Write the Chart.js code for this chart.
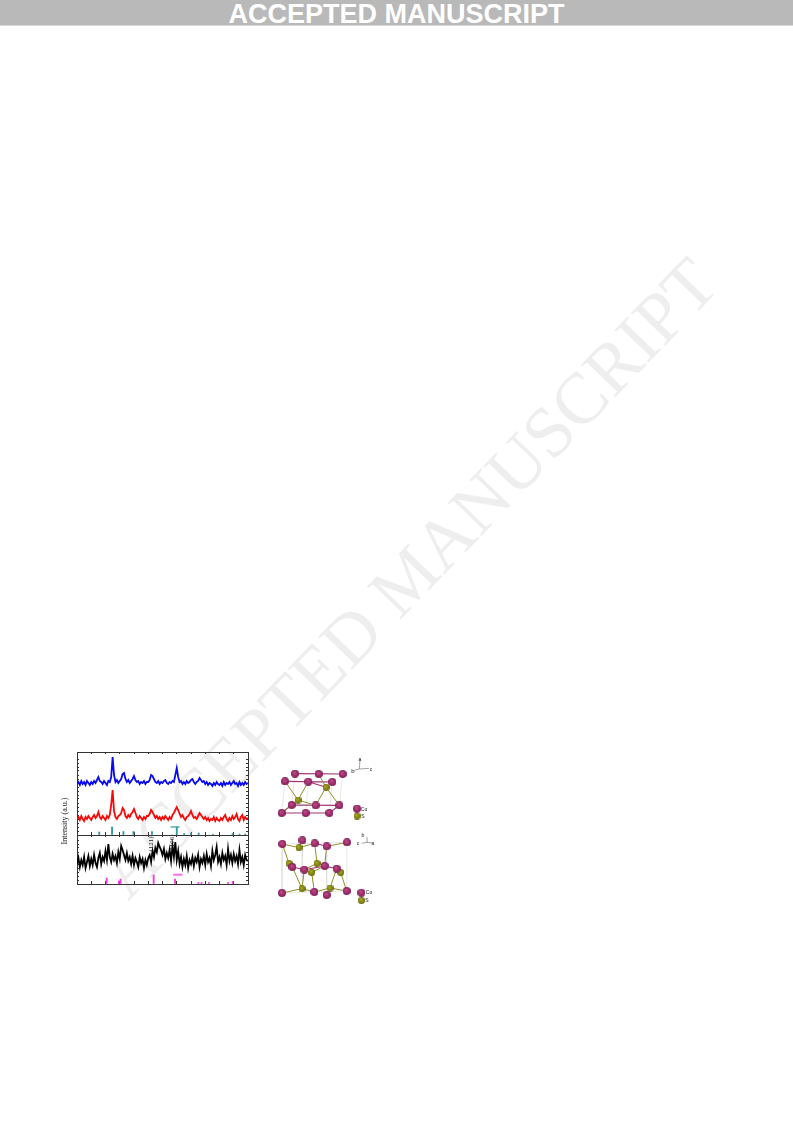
<!DOCTYPE html>
<html>
<head>
<meta charset="utf-8">
<title>XRD patterns</title>
<script src="https://cdn.jsdelivr.net/npm/chart.js@4/dist/chart.umd.min.js"></script>
<style>
html, body { margin: 0; padding: 0; background: #fff; }
body { position: relative; width: 793px; height: 1121px; overflow: hidden; }
canvas { position: absolute; }
.banner { position: absolute; left: 0; top: 0; width: 793px; height: 25px; background: #b9b9b9; border-bottom: 1px solid #d8d8d8;
  color: #fff; font: bold 27px/28px "Liberation Sans", sans-serif; text-align: center; }
.mark { position: absolute; left: 408px; top: 578px; white-space: nowrap; color: #eeeeee; font: 72px "Liberation Serif", serif;
  transform: translate(-50%, -50%) rotate(-46deg); }
.txt { position: absolute; white-space: nowrap; color: #222; }
.rot { transform: translate(-50%, -50%) rotate(-90deg); }
.serif { font-family: "Liberation Serif", serif; }
.sans { font-family: "Liberation Sans", sans-serif; transform: translate(-50%, -50%); }
</style>
</head>
<body>
<div class="mark">ACCEPTED MANUSCRIPT</div>
<div class="banner">ACCEPTED MANUSCRIPT</div>

<canvas id="topPanel" style="left:67px;top:746px" width="187" height="92"></canvas>
<canvas id="bottomPanel" style="left:67px;top:832px" width="187" height="58"></canvas>
<canvas id="cellOne" style="left:265px;top:745px" width="120" height="90"></canvas>
<canvas id="cellTwo" style="left:265px;top:825px" width="120" height="85"></canvas>

<div class="txt rot serif" style="left:64px;top:821px;font-size:8px">Intensity (a.u.)</div>
<div class="txt rot serif" style="left:151px;top:844px;font-size:7px">(121)</div>
<div class="txt rot serif" style="left:172px;top:842px;font-size:7px">(106)</div>

<script>
// 2 theta grid of the patterns
const twoTheta = [20,20.5,21,21.5,22,22.5,23,23.5,24,24.5,25,25.5,26,26.5,27,27.5,28,28.5,29,29.5,
  30,30.5,31,31.5,32,32.5,33,33.5,34,34.5,35,35.5,36,36.5,37,37.5,38,38.5,39,39.5,
  40,40.5,41,41.5,42,42.5,43,43.5,44,44.5,45,45.5,46,46.5,47,47.5,48,48.5,49,49.5,
  50,50.5,51,51.5,52,52.5,53,53.5,54,54.5,55,55.5,56,56.5,57,57.5,58,58.5,59,59.5,
  60,60.5,61,61.5,62,62.5,63,63.5,64,64.5,65,65.5,66,66.5,67,67.5,68,68.5,69,69.5,
  70,70.5,71,71.5,72,72.5,73,73.5,74,74.5,75,75.5,76,76.5,77,77.5,78,78.5,79,79.5,80];

const bluePattern = [51,53,50,54,51,53,50,54,52,50,
  53,51,54,52,55,58,54,53,51,54,
  52,50,54,53,58,78,60,53,55,52,
  54,56,61,62,56,53,55,52,54,56,
  59,55,53,54,51,53,52,54,51,53,
  53,55,60,59,56,53,52,54,51,53,
  52,54,55,52,51,53,52,54,53,60,
  67,58,53,54,51,53,51,54,52,53,
  55,56,53,51,53,54,57,55,53,54,
  51,53,50,52,51,49,52,50,53,51,
  50,52,49,53,50,52,51,53,50,52,
  54,51,52,49,53,50,52,50,53,51,52];

const redPattern = [16,18,15,19,16,14,18,16,19,17,
  15,18,20,17,19,23,18,16,19,17,
  15,19,17,20,30,45,24,18,16,19,
  20,22,27,25,19,17,20,18,21,23,
  26,22,18,16,19,17,15,18,16,19,
  19,21,25,23,20,17,19,16,18,15,
  18,16,19,17,15,18,16,20,22,25,
  28,25,21,18,20,17,15,18,19,21,
  24,20,17,18,16,19,22,20,18,16,
  18,15,17,14,16,15,18,14,17,15,
  14,17,15,18,20,16,14,17,15,19,
  16,18,21,16,14,18,20,15,18,16,17];

const blackPattern = [20,26,17,24,19,27,16,22,28,18,
  25,19,29,21,17,26,31,20,27,23,
  33,24,40,27,22,30,24,28,21,32,
  25,38,34,29,24,31,23,27,20,28,
  19,26,22,17,27,21,25,16,24,19,
  26,29,22,33,27,36,32,41,37,34,
  29,35,25,31,26,34,23,38,27,42,
  24,33,20,27,17,25,19,28,16,24,
  20,27,18,26,22,29,17,25,21,28,
  19,30,22,26,18,33,24,29,37,22,
  27,20,31,24,28,19,35,23,29,21,
  30,23,28,20,34,22,27,19,29,24,23];

// reference sticks
const tealPos = [27.8,32.3,36.3,39.8,46.3,55,57.6,60,62.7,67.7,74.6,77,79];
const tealHeight = [3,8,3.5,3.5,3.5,8,1.5,2,2,1,1.5,1,1];
const pinkPos = [30.4,34.7,35.3,46.9,54.4,62.6,63.7,66.3,73,74.6];
const pinkHeight = [6,3,5,9,5,1.5,1.5,1.5,1.5,2.5];
const tealBracket = [[52.8,8],[56,8]];
const pinkBracket = [[53.8,9.3],[57,9.3]];

// first cell (Co, S atoms, bonds as x1,y1,x2,y2)
const cellOneCo = [[90,86],[161,87],[233,87],[60,109],[130,110],[202,111],[80,180],[152,181],[223,181],[50,204],[122,204],[193,204],[276,191]];
const cellOneS = [[183,127],[99,165],[276,213]];
const cellOneEdges = [[60,109,50,204],[130,110,122,204],[233,87,223,181],[90,86,80,180],[202,111,193,204]];
const cellOneCoBonds = [[90,86,233,87],[60,109,202,111],[130,110,183,127],[80,180,223,181],[50,204,193,204],[80,180,50,204],[223,181,193,204]];
const cellOneSBonds = [[99,165,60,109],[99,165,130,110],[99,165,50,204],[99,165,152,181],[183,127,202,111],[183,127,152,181],[183,127,223,181],[183,127,161,87]];
const cellOneAxes = [[283,72,285,42],[283,72,312,70],[283,72,268,76]];

// second cell
const cellTwoCo = [[52,57],[112,46],[149,55],[185,64],[246,52],[82,126],[118,134],[179,123],[215,131],[51,204],[148,201],[185,210],[245,198],[289,203]];
const cellTwoS = [[102,68],[72,115],[156,115],[140,142],[227,142],[111,191],[195,189],[289,226]];
const cellTwoEdges = [[52,57,246,52],[246,52,245,198],[52,57,51,204],[51,204,245,198],[112,46,112,190],[185,64,185,210]];
const cellTwoCoBonds = [[82,126,118,134],[118,134,179,123],[179,123,215,131],[149,55,185,64]];
const cellTwoSBonds = [[52,57,72,115],[72,115,82,126],[102,68,112,46],[102,68,52,57],[102,68,149,55],[149,55,156,115],[185,64,179,123],[185,64,246,52],
  [156,115,118,134],[156,115,179,123],[140,142,118,134],[140,142,179,123],[140,142,148,201],[118,134,111,191],[82,126,111,191],[51,204,111,191],[111,191,148,201],
  [148,201,195,189],[195,189,245,198],[195,189,215,131],[215,131,227,142],[227,142,245,198]];
const cellTwoAxes = [[306,52,306,36],[306,52,322,54],[306,52,290,55]];

Chart.defaults.animation = false;
Chart.defaults.responsive = false;
Chart.defaults.plugins.legend.display = false;
Chart.defaults.plugins.tooltip.enabled = false;

function xy(xs, ys) {
  return xs.map((x, i) => ({ x: x, y: ys[i] }));
}

function pairs(list) {
  return list.map(p => ({ x: p[0], y: p[1] }));
}

function segments(list) {
  let out = [];
  list.forEach(s => {
    out.push({ x: s[0], y: s[1] }, { x: s[2], y: s[3] }, { x: null, y: null });
  });
  return out;
}

function flat(scale) {
  scale.width = scale.isHorizontal() ? scale.width : 0;
  scale.height = scale.isHorizontal() ? 0 : scale.height;
}

function frameAxis(pos, min, max, step, len) {
  return {
    type: "linear", position: pos, min: min, max: max, offset: false, afterFit: flat,
    ticks: { display: false, stepSize: step },
    border: { display: true, color: "#333", width: 1 },
    grid: { drawOnChartArea: false, drawTicks: true, tickLength: -len, color: "#333", lineWidth: 1, offset: false }
  };
}

function panelScales(yMax) {
  return {
    x: frameAxis("bottom", 20, 80, 5, 3),
    xTop: frameAxis("top", 20, 80, 5, 2),
    y: frameAxis("left", 0, yMax, 4, 2),
    yRight: frameAxis("right", 0, yMax, 4, 2)
  };
}

function trace(data, color) {
  return { type: "line", data: data, borderColor: color, borderWidth: 1.8, pointRadius: 0, tension: 0 };
}

function sticks(data, color) {
  return { type: "bar", data: data, backgroundColor: color, barThickness: 1.2 };
}

function bracket(data, color, w) {
  return { type: "line", data: pairs(data), borderColor: color, borderWidth: w, pointRadius: 0 };
}

new Chart(document.getElementById("topPanel"), {
  data: {
    datasets: [
      trace(xy(twoTheta, bluePattern), "#0a0af0"),
      trace(xy(twoTheta, redPattern), "#f50a0a"),
      sticks(xy(tealPos, tealHeight), "#2f9a9a"),
      bracket(tealBracket, "#2f9a9a", 1.2)
    ]
  },
  options: {
    layout: { autoPadding: false, padding: { left: 10, right: 6, top: 6, bottom: 3 } },
    scales: panelScales(83)
  }
});

new Chart(document.getElementById("bottomPanel"), {
  data: {
    datasets: [
      trace(xy(twoTheta, blackPattern), "#000"),
      sticks(xy(pinkPos, pinkHeight), "#f03ce0"),
      bracket(pinkBracket, "#f76ee8", 2)
    ]
  },
  options: {
    layout: { autoPadding: false, padding: { left: 10, right: 6, top: 3, bottom: 6 } },
    scales: panelScales(49)
  }
});

// shaded ball used as point style for the atoms
function ball(r, light, mid, dark) {
  const c = document.createElement("canvas");
  c.width = c.height = Math.ceil(r * 2);
  const g = c.getContext("2d");
  const grad = g.createRadialGradient(r * 0.8, r * 0.7, 0.3, r, r, r);
  grad.addColorStop(0, light);
  grad.addColorStop(0.55, mid);
  grad.addColorStop(1, dark);
  g.fillStyle = grad;
  g.beginPath();
  g.arc(r, r, r, 0, Math.PI * 2);
  g.fill();
  return c;
}

function cellChart(id, yMax, co, s, edges, coBonds, sBonds, axes) {
  const hidden = { display: false, afterFit: flat };
  const bond = (list, color, w) => ({
    type: "line", data: segments(list), borderColor: color, borderWidth: w, pointRadius: 0, spanGaps: false, tension: 0
  });
  const atoms = (list, img) => ({
    type: "scatter", data: pairs(list), pointStyle: img
  });
  new Chart(document.getElementById(id), {
    data: {
      datasets: [
        atoms(co, ball(4, "#c04a8c", "#a2306f", "#7c2254")),
        atoms(s, ball(3.5, "#a8a826", "#8b8b12", "#66660a")),
        bond(sBonds, "#8f8f2a", 1),
        bond(coBonds, "#a2306f", 1.1),
        bond(edges, "#dedede", 0.7),
        bond(axes, "#666", 0.6)
      ]
    },
    options: {
      layout: { autoPadding: false, padding: 0 },
      scales: {
        x: Object.assign({ type: "linear", min: 0, max: 360 }, hidden),
        y: Object.assign({ type: "linear", min: 0, max: yMax, reverse: true }, hidden)
      }
    }
  });
}

cellChart("cellOne", 270, cellOneCo, cellOneS, cellOneEdges, cellOneCoBonds, cellOneSBonds, cellOneAxes);
cellChart("cellTwo", 255, cellTwoCo, cellTwoS, cellTwoEdges, cellTwoCoBonds, cellTwoSBonds, cellTwoAxes);
</script>

<div class="txt sans" style="left:364px;top:809px;font-size:5px">Co</div>
<div class="txt sans" style="left:363px;top:816px;font-size:5px">S</div>
<div class="txt sans" style="left:369px;top:892px;font-size:5px">Co</div>
<div class="txt sans" style="left:367px;top:900px;font-size:5px">S</div>
<div class="txt sans" style="left:360px;top:759px;font-size:5px">a</div>
<div class="txt sans" style="left:353px;top:771px;font-size:6px">b</div>
<div class="txt sans" style="left:371px;top:769px;font-size:5px">c</div>
<div class="txt sans" style="left:363px;top:835px;font-size:5px">b</div>
<div class="txt sans" style="left:358px;top:843px;font-size:5px">c</div>
<div class="txt sans" style="left:373px;top:843px;font-size:5px">a</div>
</body>
</html>
